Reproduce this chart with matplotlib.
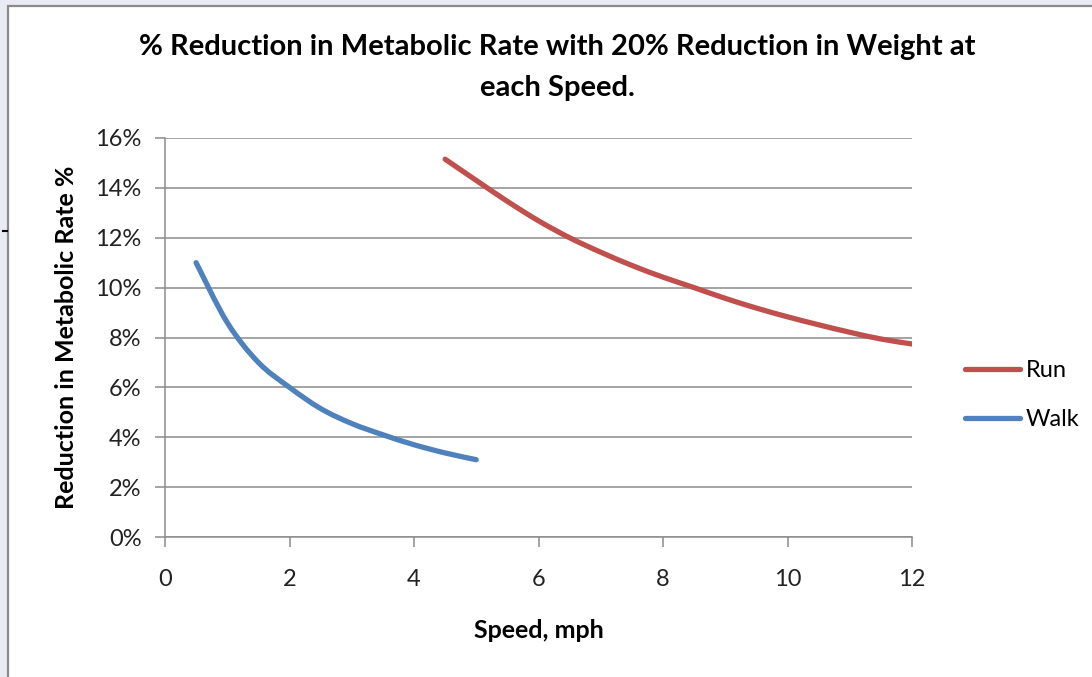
import numpy as np
import matplotlib.pyplot as plt
from matplotlib.path import Path
from matplotlib.patches import PathPatch, Rectangle
from matplotlib.lines import Line2D
from matplotlib.ticker import FuncFormatter

# speeds in mph, reduction in metabolic rate in %
walk_speed = [0.5, 1.0, 1.5, 2.0, 2.5, 3.0, 3.5, 4.0, 4.5, 5.0]
walk_reduction = [11.0, 8.6, 7.0, 6.0, 5.15, 4.55, 4.1, 3.7, 3.37, 3.1]

run_speed = [4.5, 5.0, 5.5, 6.0, 6.5, 7.0, 7.5, 8.0, 8.5, 9.0, 9.5, 10.0,
             10.5, 11.0, 11.5, 12.0]
run_reduction = [15.15, 14.3, 13.46, 12.68, 12.0, 11.42, 10.89, 10.42, 10.0,
                 9.57, 9.18, 8.83, 8.51, 8.21, 7.94, 7.74]

x_ticks = [0, 2, 4, 6, 8, 10, 12]
y_ticks = [0, 2, 4, 6, 8, 10, 12, 14, 16]

RUN_COLOR = '#C0504D'
WALK_COLOR = '#4F81BD'
GRID_COLOR = '#8C8C8C'
FONT = 'Lato'

plt.rcParams['font.family'] = [FONT, 'DejaVu Sans']


def smooth_path(xs, ys, tension=1.0 / 6):
    '''
    Smoothed line like the spreadsheet "smoothed line" option:
    cubic bezier segments with catmull-rom style control points.
    '''
    xs = np.asarray(xs, float)
    ys = np.asarray(ys, float)
    pts = np.column_stack([xs, ys])
    verts = [pts[0]]
    codes = [Path.MOVETO]
    n = len(pts)
    for i in range(n - 1):
        p0 = pts[i - 1] if i > 0 else pts[i]
        p1 = pts[i]
        p2 = pts[i + 1]
        p3 = pts[i + 2] if i + 2 < n else pts[i + 1]
        c1 = p1 + (p2 - p0) * tension
        c2 = p2 - (p3 - p1) * tension
        verts += [c1, c2, p2]
        codes += [Path.CURVE4] * 3
    return Path(verts, codes)


fig = plt.figure(figsize=(10.92, 6.77), dpi=100, facecolor='#E9EAF4')

# white chart sheet with its grey border, kept behind the axes
fig.patches.append(Rectangle((8 / 1092, -0.01), 1.0, 1 - 6 / 677 + 0.01,
                             transform=fig.transFigure, facecolor='white',
                             edgecolor='#8A8A8A', linewidth=1.6, zorder=-5))
fig.add_artist(Line2D([3 / 1092, 7 / 1092], [1 - 231 / 677] * 2,
                      transform=fig.transFigure, color='black', lw=1.5))

ax = fig.add_axes([165 / 1092, 1 - 537 / 677, (912 - 165) / 1092, (537 - 138) / 677])
ax.set_zorder(2)
ax.set_facecolor('none')

for xs, ys, col in [(run_speed, run_reduction, RUN_COLOR),
                    (walk_speed, walk_reduction, WALK_COLOR)]:
    ax.add_patch(PathPatch(smooth_path(xs, ys), facecolor='none', edgecolor=col,
                           linewidth=3.8, capstyle='round', joinstyle='round',
                           zorder=3))

ax.set_xlim(0, 12)
ax.set_ylim(0, 16)
ax.set_xticks(x_ticks)
ax.set_yticks(y_ticks)
ax.yaxis.set_major_formatter(FuncFormatter(lambda v, p: '%d%%' % v))
ax.grid(axis='y', color=GRID_COLOR, linewidth=1.1)
ax.set_axisbelow(True)

for side in ['top', 'right']:
    ax.spines[side].set_visible(False)
ax.spines['left'].set_color(GRID_COLOR)
ax.spines['bottom'].set_color(GRID_COLOR)
ax.spines['left'].set_linewidth(1.1)
ax.spines['bottom'].set_linewidth(1.1)
ax.tick_params(axis='both', direction='out', length=7, width=1.1,
               color=GRID_COLOR, labelsize=17, labelcolor='#222222')
ax.tick_params(axis='y', pad=10)
ax.tick_params(axis='x', pad=16)

ax.set_xlabel('Speed, mph', fontsize=18, fontweight='bold', labelpad=21)
ax.set_ylabel('Reduction in Metabolic Rate %', fontsize=18, fontweight='bold',
              labelpad=12)

fig.text(557 / 1092, 1 - 47 / 677,
         '% Reduction in Metabolic Rate with 20% Reduction in Weight at',
         ha='center', va='center', fontsize=21, fontweight='bold')
fig.text(557 / 1092, 1 - 88 / 677, 'each Speed.',
         ha='center', va='center', fontsize=21, fontweight='bold')

handles = [Line2D([], [], color=RUN_COLOR, lw=3.8, solid_capstyle='round'),
           Line2D([], [], color=WALK_COLOR, lw=3.8, solid_capstyle='round')]
fig.legend(handles, ['Run', 'Walk'], loc='center left',
           bbox_to_anchor=(944 / 1092, 1 - 395 / 677), frameon=False,
           fontsize=17, handlelength=2.3, handletextpad=0.25, labelspacing=1.2)

fig.savefig('out.png', dpi=100, facecolor=fig.get_facecolor())
